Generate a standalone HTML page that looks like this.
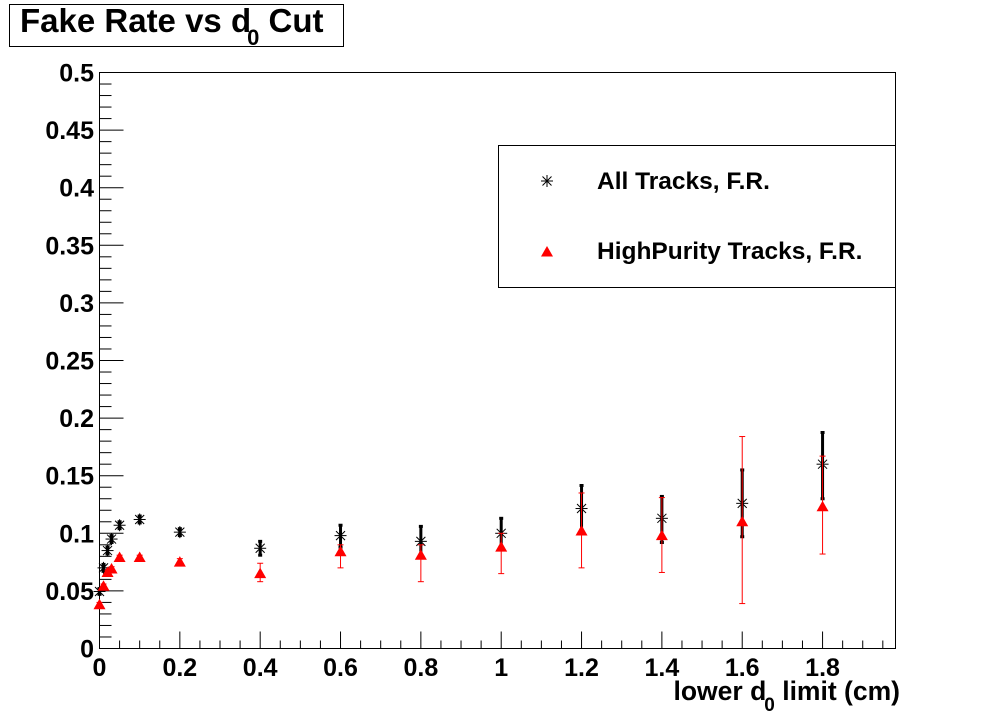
<!DOCTYPE html>
<html><head><meta charset="utf-8"><style>
body{margin:0;background:#fff;}
svg{display:block;font-family:"Liberation Sans",sans-serif;font-weight:bold;}
</style></head><body>
<svg id="c" width="996" height="722" viewBox="0 0 996 722">
<rect x="0" y="0" width="996" height="722" fill="#fff"/>
<g>
<rect x="9.5" y="4.5" width="334" height="42" fill="#fff" stroke="#000"/>
<text x="20" y="32" font-size="33">Fake Rate vs d<tspan font-size="22" dx="-4" dy="13">0</tspan><tspan dy="-13"> Cut</tspan></text>
</g>
<rect x="99.5" y="72.5" width="796" height="576" fill="none" stroke="#000"/>
<g id="axes"></g>
<g id="marks"></g>
<g>
<rect x="498.5" y="145.5" width="397" height="142" fill="#fff" stroke="#000"/>
<g id="legmarks"></g>
<text x="597" y="189" font-size="24.5">All Tracks, F.R.</text>
<text x="597" y="259" font-size="24.5">HighPurity Tracks, F.R.</text>
</g>
<text x="900" y="700" font-size="26.5" text-anchor="end">lower d<tspan font-size="19" dx="-2" dy="11">0</tspan><tspan dy="-11"> limit (cm)</tspan></text>
</svg>
<script>
const xVals=[0,0.01,0.02,0.03,0.05,0.1,0.2,0.4,0.6,0.8,1.0,1.2,1.4,1.6,1.8];
const allY=[0.0495,0.070,0.085,0.095,0.107,0.112,0.101,0.087,0.098,0.093,0.100,0.1215,0.113,0.126,0.160];
const allHi=[0.052,0.073,0.088,0.098,0.110,0.115,0.104,0.093,0.107,0.106,0.113,0.1415,0.132,0.155,0.1875];
const allLo=[0.047,0.067,0.082,0.092,0.104,0.109,0.098,0.081,0.088,0.080,0.088,0.103,0.092,0.097,0.130];
const hpY=[0.038,0.054,0.066,0.069,0.079,0.079,0.075,0.065,0.084,0.081,0.088,0.102,0.098,0.110,0.123];
const hpHi=[0.040,0.056,0.068,0.071,0.081,0.081,0.078,0.074,0.090,0.090,0.100,0.135,0.131,0.184,0.167];
const hpLo=[0.036,0.052,0.064,0.067,0.077,0.077,0.072,0.058,0.070,0.058,0.065,0.070,0.066,0.039,0.082];
const xTickLabels=["0","0.2","0.4","0.6","0.8","1","1.2","1.4","1.6","1.8"];
const yTickLabels=["0","0.05","0.1","0.15","0.2","0.25","0.3","0.35","0.4","0.45","0.5"];
const NS="http://www.w3.org/2000/svg";
const X0=99.5,PXU=401.7,Y0=648.5,PYU=1152;
function sx(v){return X0+v*PXU;}
function sy(v){return Y0-v*PYU;}
function mk(t,a,p){const e=document.createElementNS(NS,t);for(const k in a)e.setAttribute(k,a[k]);p.appendChild(e);return e;}
const axes=document.getElementById('axes');
for(let i=0;i<=50;i++){const y=sy(i*0.01);const len=(i%5===0)?24:12;
const t=mk('line',{x1:X0,x2:X0+len,y1:y,y2:y,stroke:'#000'},axes);

}
yTickLabels.forEach((s,i)=>{const t=mk('text',{x:94,y:sy(i*0.05)+9,'font-size':25,'text-anchor':'end'},axes);t.textContent=s;

});
for(let i=0;i*0.05<=1.98;i++){const x=sx(i*0.05);const len=(i%4===0)?17:8;
const t=mk('line',{x1:x,x2:x,y1:Y0,y2:Y0-len,stroke:'#000'},axes);

}
xTickLabels.forEach((s,i)=>{const t=mk('text',{x:sx(i*0.2),y:676,'font-size':25,'text-anchor':'middle'},axes);t.textContent=s;

});
const marks=document.getElementById('marks');
function star(g,x,y){const r=6;mk('line',{x1:x-r,x2:x+r,y1:y,y2:y,stroke:'#000'},g);mk('line',{x1:x,x2:x,y1:y-r,y2:y+r,stroke:'#000'},g);
mk('line',{x1:x-4.5,x2:x+4.5,y1:y-4.5,y2:y+4.5,stroke:'#000'},g);mk('line',{x1:x-4.5,x2:x+4.5,y1:y+4.5,y2:y-4.5,stroke:'#000'},g);}
function tri(g,x,y){mk('polygon',{points:`${x},${y-6} ${x+6},${y+4.5} ${x-6},${y+4.5}`,fill:'#f00'},g);}
xVals.forEach((v,i)=>{const x=sx(v);
const g=mk('g',{},marks);


mk('line',{x1:x,x2:x,y1:sy(allHi[i]),y2:sy(allLo[i]),stroke:'#000','stroke-width':3},g);
mk('line',{x1:x-2,x2:x+2,y1:sy(allHi[i]),y2:sy(allHi[i]),stroke:'#000','stroke-width':3},g);
mk('line',{x1:x-2,x2:x+2,y1:sy(allLo[i]),y2:sy(allLo[i]),stroke:'#000','stroke-width':3},g);
star(g,x,sy(allY[i]));});
xVals.forEach((v,i)=>{const x=sx(v);
const g=mk('g',{},marks);


mk('line',{x1:x,x2:x,y1:sy(hpHi[i]),y2:sy(hpLo[i]),stroke:'#f00','stroke-width':1},g);
mk('line',{x1:x-3,x2:x+3,y1:sy(hpHi[i]),y2:sy(hpHi[i]),stroke:'#f00'},g);
mk('line',{x1:x-3,x2:x+3,y1:sy(hpLo[i]),y2:sy(hpLo[i]),stroke:'#f00'},g);
tri(g,x,sy(hpY[i]));});
const lm=document.getElementById('legmarks');
star(lm,547,181);tri(lm,547,252);
</script>
</body></html>
